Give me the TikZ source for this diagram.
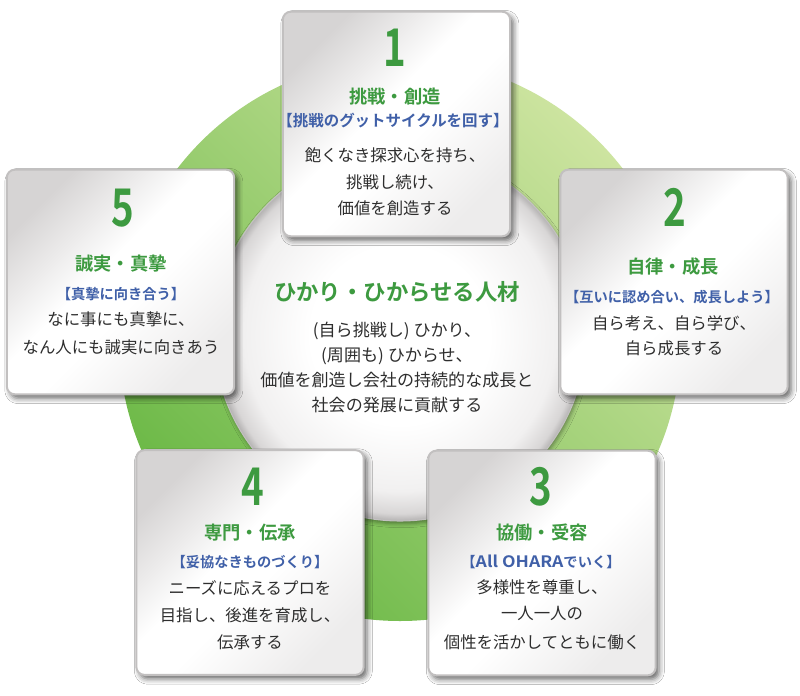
\documentclass[tikz,border=0pt]{standalone}
\usepackage{fontspec}
\setmainfont{Noto Sans CJK JP}[BoldFont={Noto Sans CJK JP Bold}]
\usepackage{graphicx}
\usetikzlibrary{shadows.blur}
\definecolor{gA}{HTML}{CDE4A0}
\definecolor{gB}{HTML}{6AB845}
\definecolor{tgreen}{HTML}{3D9A40}
\definecolor{tblue}{HTML}{4060A8}
\definecolor{tbody}{HTML}{2E2E2E}
\definecolor{bxA}{HTML}{D6D4D4}
\definecolor{bxB}{HTML}{EDECEC}
\definecolor{bxEdge}{HTML}{C2C0C0}
\definecolor{dkA}{HTML}{F1F0F0}
\definecolor{dkB}{HTML}{D8D6D6}
\definecolor{dkC}{HTML}{B4B2B2}
\pgfdeclareverticalshading{boxsh}{100bp}{color(0bp)=(bxB); color(25bp)=(bxB); color(45bp)=(white); color(55bp)=(white); color(75bp)=(bxA); color(100bp)=(bxA)}
\pgfdeclareradialshading{disksh}{\pgfpoint{0bp}{0bp}}{color(0bp)=(white); color(12bp)=(white); color(21bp)=(dkA); color(24bp)=(dkB); color(25bp)=(dkC); color(50bp)=(dkC)}
\tikzset{
  card/.style={draw=bxEdge, line width=1.5pt, rounded corners=6pt, shade, shading=boxsh, shading angle=45,
    minimum width=170.5pt, minimum height=168.5pt, inner sep=0pt,
    blur shadow={shadow xshift=2.5pt, shadow yshift=-3pt, shadow blur radius=4pt, shadow opacity=60}},
  num/.style={font=\fontsize{39}{39}\selectfont\bfseries, text=tgreen, inner sep=0pt, text height=28.5pt, text depth=0pt},
  head/.style={font=\fontsize{13.7}{16}\selectfont\bfseries, text=tgreen, inner sep=0pt, text height=12pt, text depth=1.7pt},
  brk/.style={font=\fontsize{10.7}{12}\selectfont\bfseries, text=tblue, inner sep=0pt, text height=9.4pt, text depth=1.3pt},
  body/.style={font=\fontsize{12.3}{15}\selectfont, text=tbody, inner sep=0pt, text height=10.8pt, text depth=1.5pt},
  chead/.style={font=\fontsize{16.8}{20}\selectfont\bfseries, text=tgreen, inner sep=0pt, text height=14.8pt, text depth=2pt},
  cbody/.style={font=\fontsize{12.8}{15}\selectfont, text=tbody, inner sep=0pt, text height=11.3pt, text depth=1.5pt}
}
\newcommand{\cnum}[1]{\scalebox{0.74}[1]{#1}}
\begin{document}
\begin{tikzpicture}[x=0.75pt, y=-0.75pt]
\useasboundingbox (0,0) rectangle (800,696);
\fill[white] (0,0) rectangle (800,696);
% green ring
\shade[top color=gA, bottom color=gB, shading angle=-45] (400,340) circle[radius=281];
% inner disk
\path[shade, shading=disksh, blur shadow={shadow xshift=1pt, shadow yshift=-2pt, shadow blur radius=3pt, shadow opacity=40}] (400,335) circle[radius=186];
\draw[color=dkC!80!white, line width=0.8pt] (400,335) circle[radius=186];
% center text
\node[chead] (ch) at (397,292) {ひかり・ひからせる人材};
\node[cbody] (c1) at (397,330) {(自ら挑戦し) ひかり、};
\node[cbody] (c2) at (397,355) {(周囲も) ひからせ、};
\node[cbody] (c3) at (397,380) {価値を創造し会社の持続的な成長と};
\node[cbody] (c4) at (397,405) {社会の発展に貢献する};
% cards
\node[card] (b1) at (396.5,124) {};
\node[card] (b5) at (120.5,282) {};
\node[card] (b2) at (674,282) {};
\node[card] (b4) at (250,562.5) {};
\node[card] (b3) at (542,563) {};
% card 1
\node[num] (n1) at (395,47) {\cnum{1}};
\node[head] (h1) at (395,97) {挑戦・創造};
\node[brk, font=\fontsize{11.6}{12}\selectfont\bfseries] (k1) at (393,121) {【挑戦のグットサイクルを回す】};
\node[body] (t1a) at (395,155) {飽くなき探求心を持ち、};
\node[body] (t1b) at (395,182) {挑戦し続け、};
\node[body] (t1c) at (395,208) {価値を創造する};
% card 5
\node[num] (n5) at (123,207) {\cnum{5}};
\node[head] (h5) at (121,264) {誠実・真摯};
\node[brk] (k5) at (121,294) {【真摯に向き合う】};
\node[body] (t5a) at (121,319) {なに事にも真摯に、};
\node[body] (t5b) at (121,347) {なん人にも誠実に向きあう};
% card 2
\node[num] (n2) at (675,207) {\cnum{2}};
\node[head] (h2) at (673,267) {自律・成長};
\node[brk] (k2) at (672,297) {【互いに認め合い、成長しよう】};
\node[body] (t2a) at (674,323) {自ら考え、自ら学び、};
\node[body] (t2b) at (674,348) {自ら成長する};
% card 4
\node[num] (n4) at (253,486) {\cnum{4}};
\node[head] (h4) at (250,533) {専門・伝承};
\node[brk] (k4) at (250,562) {【妥協なきものづくり】};
\node[body] (t4a) at (250,588) {ニーズに応えるプロを};
\node[body] (t4b) at (250,615) {目指し、後進を育成し、};
\node[body] (t4c) at (250,642) {伝承する};
% card 3
\node[num] (n3) at (541,486) {\cnum{3}};
\node[head] (h3) at (542,533) {協働・受容};
\node[brk] (k3) at (541,562) {【{\fontsize{11.8}{12}\selectfont\scalebox{1.12}[1]{All OHARA}}でいく】};
\node[body] (t3a) at (542,587) {多様性を尊重し、};
\node[body] (t3b) at (542,613) {一人一人の};
\node[body] (t3c) at (542,642) {個性を活かしてともに働く};
\end{tikzpicture}
\end{document}
